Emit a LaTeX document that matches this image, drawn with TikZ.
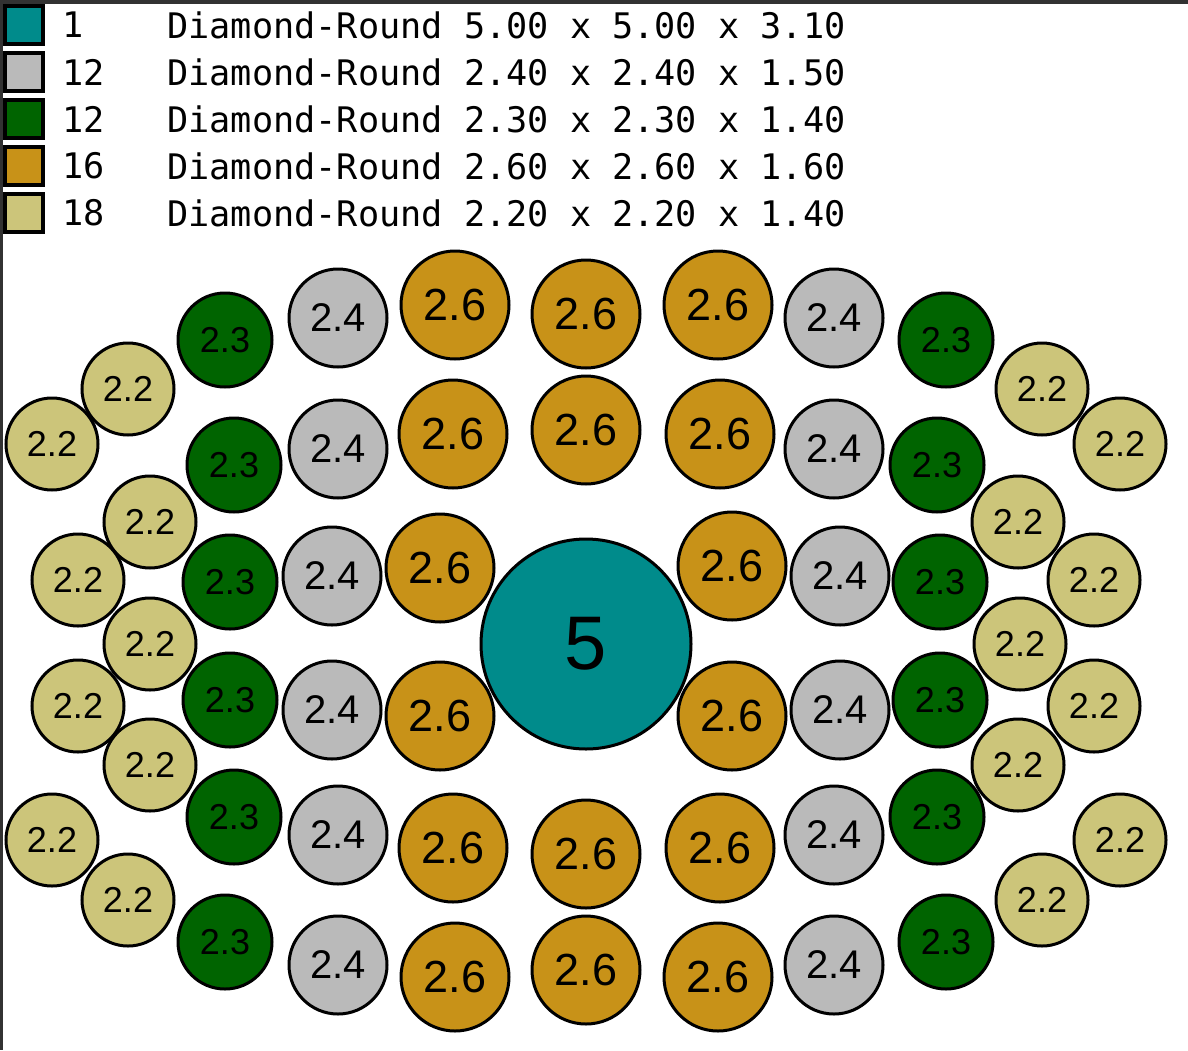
\documentclass[tikz,border=0pt]{standalone}
\usepackage{fontspec}
\setmainfont{Liberation Sans}
\newfontfamily\legfont{DejaVu Sans Mono}
\definecolor{cteal}{RGB}{0,139,139}
\definecolor{cgray}{RGB}{186,186,186}
\definecolor{cgreen}{RGB}{0,100,0}
\definecolor{cgold}{RGB}{200,146,24}
\definecolor{ckhaki}{RGB}{204,197,122}
\definecolor{cframe}{RGB}{50,50,50}
\tikzset{
  ball/.style={circle,draw=black,line width=1.5pt,inner sep=0pt},
  bfive/.style={ball,fill=cteal,minimum size=105pt,font=\fontsize{38}{38}\selectfont},
  bsix/.style={ball,fill=cgold,minimum size=54pt,font=\fontsize{22.5}{22.5}\selectfont},
  bfour/.style={ball,fill=cgray,minimum size=49pt,font=\fontsize{20}{20}\selectfont},
  bthree/.style={ball,fill=cgreen,minimum size=47pt,font=\fontsize{18}{18}\selectfont},
  btwo/.style={ball,fill=ckhaki,minimum size=46pt,font=\fontsize{18}{18}\selectfont},
  swatch/.style={rectangle,draw=black,line width=2pt,minimum size=19pt,inner sep=0pt},
  legtxt/.style={anchor=west,inner sep=0pt,font=\legfont\fontsize{17.6}{17.6}\selectfont}
}
\begin{document}
\begin{tikzpicture}[x=0.5pt,y=-0.5pt]
\useasboundingbox (0,0) rectangle (1188,1050);
\fill[white] (0,0) rectangle (1188,1050);
\fill[cframe] (0,0) rectangle (1188,4);
\fill[cframe] (0,0) rectangle (2.5,1050);
% legend
\node[swatch,fill=cteal]  (s1) at (24,25) {};
\node[swatch,fill=cgray]  (s2) at (24,72) {};
\node[swatch,fill=cgreen] (s3) at (24,119) {};
\node[swatch,fill=cgold]  (s4) at (24,166) {};
\node[swatch,fill=ckhaki] (s5) at (24,213) {};
\node[legtxt] (n1) at (62,25) {1};
\node[legtxt] (n2) at (62,72) {12};
\node[legtxt] (n3) at (62,119) {12};
\node[legtxt] (n4) at (62,166) {16};
\node[legtxt] (n5) at (62,213) {18};
\node[legtxt] (d1) at (167,25) {Diamond-Round 5.00 x 5.00 x 3.10};
\node[legtxt] (d2) at (167,72) {Diamond-Round 2.40 x 2.40 x 1.50};
\node[legtxt] (d3) at (167,119) {Diamond-Round 2.30 x 2.30 x 1.40};
\node[legtxt] (d4) at (167,166) {Diamond-Round 2.60 x 2.60 x 1.60};
\node[legtxt] (d5) at (167,213) {Diamond-Round 2.20 x 2.20 x 1.40};
% centre
\node[bfive] (c0) at (586,644) {5};
% 2.6
\foreach \x/\y [count=\i] in {455/305,586/314,718/305,453/434,586/430,720/434,440/568,732/566,440/716,732/716,453/848,586/854,720/848,455/977,586/970,718/977}
  \node[bsix] (g\i) at (\x,\y) {2.6};
% 2.4
\foreach \x/\y [count=\i] in {338/318,338/449,332/576,332/710,338/835,338/965,834/318,834/449,840/576,840/710,834/835,834/965}
  \node[bfour] (s\i) at (\x,\y) {2.4};
% 2.3
\foreach \x/\y [count=\i] in {225/340,234/465,230/582,230/700,234/817,225/942,946/340,937/465,940/582,940/700,937/817,946/942}
  \node[bthree] (e\i) at (\x,\y) {2.3};
% 2.2
\foreach \x/\y [count=\i] in {128/389,52/444,150/522,78/580,150/644,78/706,150/765,52/840,128/900,1042/389,1120/444,1018/522,1094/580,1020/644,1094/706,1018/765,1120/840,1042/900}
  \node[btwo] (k\i) at (\x,\y) {2.2};
\end{tikzpicture}
\end{document}
